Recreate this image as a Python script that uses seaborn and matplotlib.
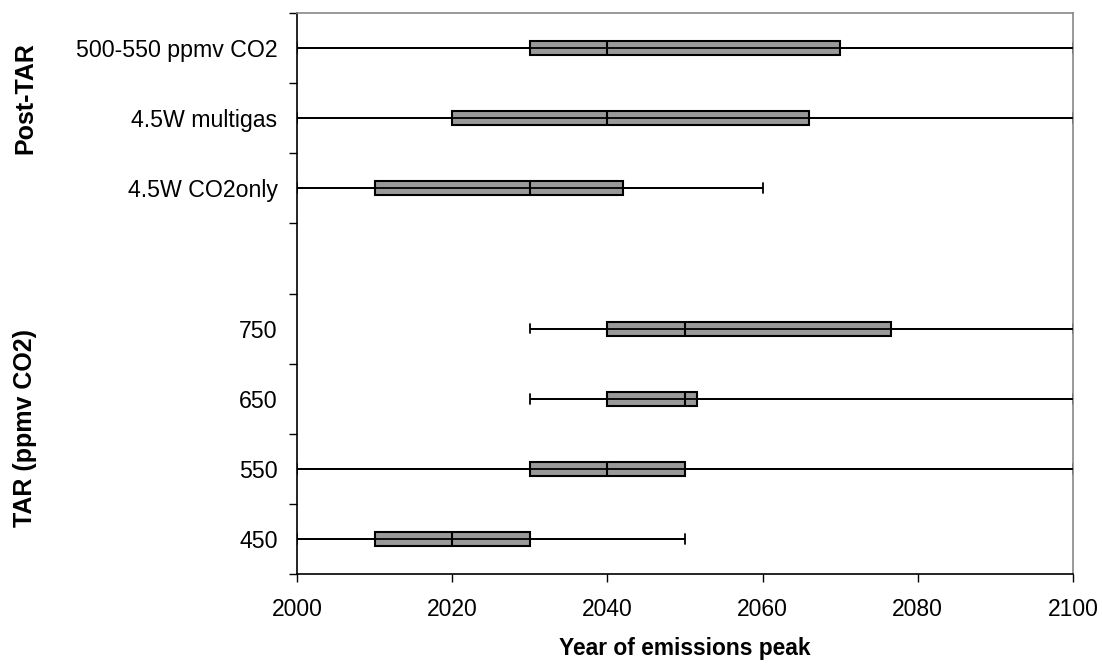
import matplotlib
matplotlib.use("Agg")
import matplotlib.pyplot as plt
import seaborn as sns
import pandas as pd
import numpy as np
from matplotlib.ticker import FixedLocator

sns.set_theme(style="white")
plt.rcParams['font.family'] = ['Liberation Sans', 'DejaVu Sans']
plt.rcParams.update({"text.color": "black", "axes.labelcolor": "black",
                     "xtick.color": "black", "ytick.color": "black"})

# Category order (top to bottom); " " is an empty spacer slot
categories = ["500-550 ppmv CO2", "4.5W multigas", "4.5W CO2only", " ",
              "750", "650", "550", "450"]
series_labels = ["500-550 ppmv CO2", "4.5W multigas", "4.5W CO2only",
                 "750", "650", "550", "450"]
# five-number summaries: min, q1, median, q3, max (year of emissions peak)
whisker_low = [2000, 2000, 2000, 2030, 2030, 2000, 2000]
box_low     = [2030, 2020, 2010, 2040, 2040, 2030, 2010]
median      = [2040, 2040, 2030, 2050, 2050, 2040, 2020]
box_high    = [2070, 2066, 2042, 2076.5, 2051.5, 2050, 2030]
whisker_high= [2100, 2100, 2060, 2100, 2100, 2100, 2050]
x_ticks = [2000, 2020, 2040, 2060, 2080, 2100]

rows = []
for i, lab in enumerate(series_labels):
    for v in (whisker_low[i], box_low[i], median[i], box_high[i], whisker_high[i]):
        rows.append({"scenario": lab, "year": v})
df = pd.DataFrame(rows)

fig = plt.figure(figsize=(11.02, 6.65), dpi=100)
ax = fig.add_axes([297/1102, 1-574/665, (1073-297)/1102, (574-13)/665])

sns.boxplot(data=df, x="year", y="scenario", order=categories, orient="h",
            whis=(0, 100), width=0.2, color="#999999", saturation=1,
            linecolor="black", linewidth=1.5, fliersize=0,
            whiskerprops=dict(linewidth=1.3), capprops=dict(linewidth=1.3),
            capwidths=0.14, ax=ax)

# whisker line continues through the box (as in the original chart)
ypos = [categories.index(lab) for lab in series_labels]
ax.hlines(ypos, whisker_low, whisker_high, colors="black", linewidth=1.3, zorder=3)

ax.set_xlim(2000, 2100)
ax.set_ylim(7.5, -0.5)
ax.set_xticks(x_ticks)
ax.set_xticklabels([str(t) for t in x_ticks], fontsize=16.5, color="black")
ax.tick_params(axis="x", direction="out", length=6, width=1, color="black",
               labelcolor="black", bottom=True, pad=11)
ax.tick_params(axis="y", which="major", length=0, labelsize=16.7, pad=14,
               labelcolor="black")
ax.yaxis.set_minor_locator(FixedLocator(np.arange(-0.5, 8.0, 1.0)))
ax.tick_params(axis="y", which="minor", direction="out", length=6, width=1,
               color="black", left=True)
ax.set_ylabel("")
ax.set_xlabel("Year of emissions peak", fontsize=16.4, fontweight="bold",
              labelpad=12, color="black")

for s in ["left", "bottom"]:
    ax.spines[s].set_color("black")
    ax.spines[s].set_linewidth(1.2)
for s in ["top", "right"]:
    ax.spines[s].set_color("#888888")
    ax.spines[s].set_linewidth(1.2)
ax.grid(False)

fig.text(25/1102, 1-98/665, "Post-TAR", rotation=90, ha="center", va="center",
         fontsize=18, fontweight="bold", color="black")
fig.text(25/1102, 1-428/665, "TAR (ppmv CO2)", rotation=90, ha="center", va="center",
         fontsize=18, fontweight="bold", color="black")

fig.savefig("out.png", dpi=100)
